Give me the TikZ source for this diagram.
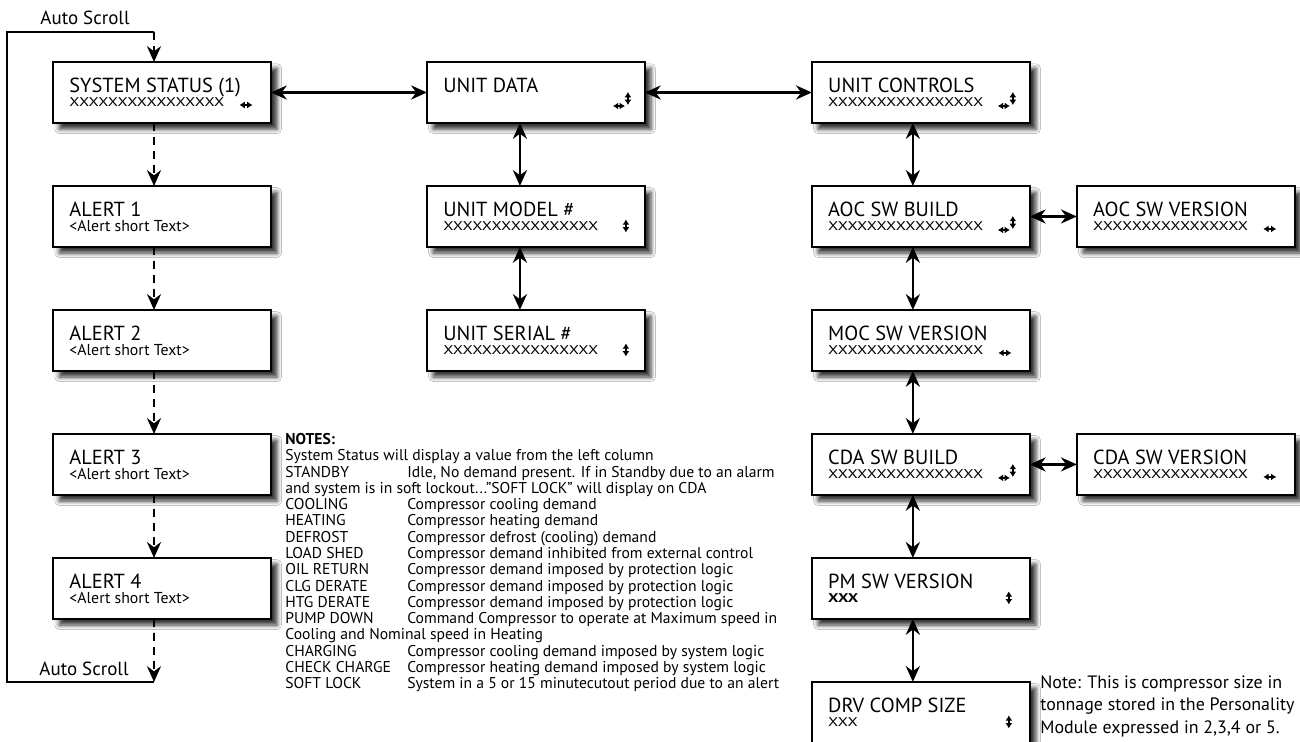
\documentclass[tikz,border=0pt]{standalone}
\usepackage{fontspec}
\setmainfont{PT Sans}
\newfontfamily\xfont[FakeStretch=1.3]{PT Sans}
\usetikzlibrary{arrows.meta,positioning,shadows.blur}

\newcommand{\nline}[2]{\makebox[2.44cm][l]{#1}#2}

\begin{document}
\begin{tikzpicture}[
  x=0.02cm, y=-0.02cm,
  node distance=1.26cm and 3.12cm,
  scr/.style={draw=black, line width=1.4pt, fill=white, inner sep=0pt, outer sep=0pt,
    minimum width=4.36cm, minimum height=1.22cm,
    blur shadow={shadow xshift=3.5pt, shadow yshift=-3.5pt, shadow blur radius=2.5pt, shadow opacity=80}},
  head/.style={label={[headtxt]north west:#1}},
  val/.style={label={[valtxt]north west:#1}},
  alrt/.style={label={[alrttxt]north west:#1}},
  headtxt/.style={anchor=base west, inner sep=0pt, xshift=0.32cm, yshift=-0.62cm,
    font=\fontsize{11.6}{12}\selectfont},
  valtxt/.style={anchor=base west, inner sep=0pt, xshift=0.32cm, yshift=-0.90cm,
    font=\xfont\fontsize{7.2}{8}\selectfont},
  alrttxt/.style={anchor=base west, inner sep=0pt, xshift=0.32cm, yshift=-0.91cm,
    font=\fontsize{9}{10}\selectfont},
  link/.style={{Stealth[length=9pt,width=8pt]}-{Stealth[length=9pt,width=8pt]}, line width=1.4pt},
  scroll/.style={-{Stealth[length=9pt,width=8pt]}, line width=1.1pt, dash pattern=on 4.5pt off 3.5pt},
  loopline/.style={line width=0.9pt},
  icon/.style={{Latex[length=3pt,width=4pt]}-{Latex[length=3pt,width=4pt]}, line width=1pt},
  lr/.pic={\draw[icon] (-6.5,0) -- (6.5,0);},
  ud/.pic={\draw[icon] (0,-6.5) -- (0,6.5);},
  lrud/.pic={\draw[icon] (-15,0) -- (-3,0); \draw[icon] (0,-1) -- (0,-14);},
  notes/.style={anchor=north west, inner sep=0pt, align=left,
    font=\fontsize{8.9}{9.27}\selectfont},
  sidenote/.style={anchor=north west, inner sep=0pt, align=left,
    font=\fontsize{10.2}{12.8}\selectfont}
]
\path[use as bounding box, fill=white] (0,0) rectangle (1300,742);

% left column
\node[scr, head={SYSTEM STATUS (1)}, val={XXXXXXXXXXXXXXXX}] (sys) at (162,92.5) {};
\node[scr, below=of sys, head={ALERT 1}, alrt={<Alert short Text>}] (al1) {};
\node[scr, below=of al1, head={ALERT 2}, alrt={<Alert short Text>}] (al2) {};
\node[scr, below=of al2, head={ALERT 3}, alrt={<Alert short Text>}] (al3) {};
\node[scr, below=of al3, head={ALERT 4}, alrt={<Alert short Text>}] (al4) {};

% middle column
\node[scr, right=of sys, head={UNIT DATA}] (udat) {};
\node[scr, below=of udat, head={UNIT MODEL \#}, val={XXXXXXXXXXXXXXXX}] (umod) {};
\node[scr, below=of umod, head={UNIT SERIAL \#}, val={XXXXXXXXXXXXXXXX}] (useri) {};

% right column
\node[scr, right=3.34cm of udat, head={UNIT CONTROLS}, val={XXXXXXXXXXXXXXXX}] (uctl) {};
\node[scr, below=of uctl, head={AOC SW BUILD}, val={XXXXXXXXXXXXXXXX}] (aocb) {};
\node[scr, below=of aocb, head={MOC SW VERSION}, val={XXXXXXXXXXXXXXXX}] (mocv) {};
\node[scr, below=of mocv, head={CDA SW BUILD}, val={XXXXXXXXXXXXXXXX}] (cdab) {};
\node[scr, below=of cdab, head={PM SW VERSION}, val={\bfseries XXX}] (pmv) {};
\node[scr, below=of pmv, head={DRV COMP SIZE}, val={XXX}] (drv) {};
\node[scr, right=0.94cm of aocb, head={AOC SW VERSION}, val={XXXXXXXXXXXXXXXX}] (aocv) {};
\node[scr, right=0.94cm of cdab, head={CDA SW VERSION}, val={XXXXXXXXXXXXXXXX}] (cdav) {};

% scroll icons
\pic at ([xshift=-0.5cm,yshift=-0.25cm]sys.east) {lr};
\pic at ([xshift=-0.34cm,yshift=-0.27cm]udat.east) {lrud};
\pic at ([xshift=-0.38cm,yshift=-0.19cm]umod.east) {ud};
\pic at ([xshift=-0.38cm,yshift=-0.19cm]useri.east) {ud};
\pic at ([xshift=-0.34cm,yshift=-0.27cm]uctl.east) {lrud};
\pic at ([xshift=-0.34cm,yshift=-0.27cm]aocb.east) {lrud};
\pic at ([xshift=-0.5cm,yshift=-0.25cm]aocv.east) {lr};
\pic at ([xshift=-0.5cm,yshift=-0.25cm]mocv.east) {lr};
\pic at ([xshift=-0.34cm,yshift=-0.27cm]cdab.east) {lrud};
\pic at ([xshift=-0.5cm,yshift=-0.25cm]cdav.east) {lr};
\pic at ([xshift=-0.42cm,yshift=-0.19cm]pmv.east) {ud};
\pic at ([xshift=-0.42cm,yshift=-0.19cm]drv.east) {ud};

% links
\draw[link] (sys) -- (udat);
\draw[link] (udat) -- (uctl);
\draw[link] ([xshift=-0.32cm]udat.south) -- ([xshift=-0.32cm]umod.north);
\draw[link] ([xshift=-0.32cm]umod.south) -- ([xshift=-0.32cm]useri.north);
\draw[link] ([xshift=-0.16cm]uctl.south) -- ([xshift=-0.16cm]aocb.north);
\draw[link] ([xshift=-0.16cm]aocb.south) -- ([xshift=-0.16cm]mocv.north);
\draw[link] ([xshift=-0.16cm]mocv.south) -- ([xshift=-0.16cm]cdab.north);
\draw[link] ([xshift=-0.16cm]cdab.south) -- ([xshift=-0.16cm]pmv.north);
\draw[link] ([xshift=-0.16cm]pmv.south) -- ([xshift=-0.16cm]drv.north);
\draw[link] (aocb) -- (aocv);
\draw[link] (cdab) -- (cdav);

% alert scrolling
\draw[scroll] ([xshift=-0.16cm]sys.south) -- ([xshift=-0.16cm]al1.north);
\draw[scroll] ([xshift=-0.16cm]al1.south) -- ([xshift=-0.16cm]al2.north);
\draw[scroll] ([xshift=-0.16cm]al2.south) -- ([xshift=-0.16cm]al3.north);
\draw[scroll] ([xshift=-0.16cm]al3.south) -- ([xshift=-0.16cm]al4.north);
\coordinate (sbot) at (154,682);
\coordinate (stop) at (154,32);
\draw[scroll] ([xshift=-0.16cm]al4.south) -- (sbot);
\draw[loopline] (sbot) -- ++(-147,0) |- (stop);
\draw[scroll] (stop) -- ([xshift=-0.16cm]sys.north);
\node[anchor=base, inner sep=0pt, font=\fontsize{10.8}{12}\selectfont] (astop) at (85,25) {Auto Scroll};
\node[anchor=base, inner sep=0pt, font=\fontsize{10.8}{12}\selectfont] (asbot) at (84,675) {Auto Scroll};

% notes
\node[notes] (notes) at (285,433) {\textbf{NOTES:}\\
System Status will display a value from the left column\\
\nline{STANDBY}{Idle, No demand present. If in Standby due to an alarm}\\
and system is in soft lockout...''SOFT LOCK'' will display on CDA\\
\nline{COOLING}{Compressor cooling demand}\\
\nline{HEATING}{Compressor heating demand}\\
\nline{DEFROST}{Compressor defrost (cooling) demand}\\
\nline{LOAD SHED}{Compressor demand inhibited from external control}\\
\nline{OIL RETURN}{Compressor demand imposed by protection logic}\\
\nline{CLG DERATE}{Compressor demand imposed by protection logic}\\
\nline{HTG DERATE}{Compressor demand imposed by protection logic}\\
\nline{PUMP DOWN}{Command Compressor to operate at Maximum speed in}\\
Cooling and Nominal speed in Heating\\
\nline{CHARGING}{Compressor cooling demand imposed by system logic}\\
\nline{CHECK CHARGE}{Compressor heating demand imposed by system logic}\\
\nline{SOFT LOCK}{System in a 5 or 15 minutecutout period due to an alert}};
\node[sidenote] (drvnote) at (1040,675) {Note: This is compressor size in\\
tonnage stored in the Personality\\
Module expressed in 2,3,4 or 5.};
\end{tikzpicture}
\end{document}
